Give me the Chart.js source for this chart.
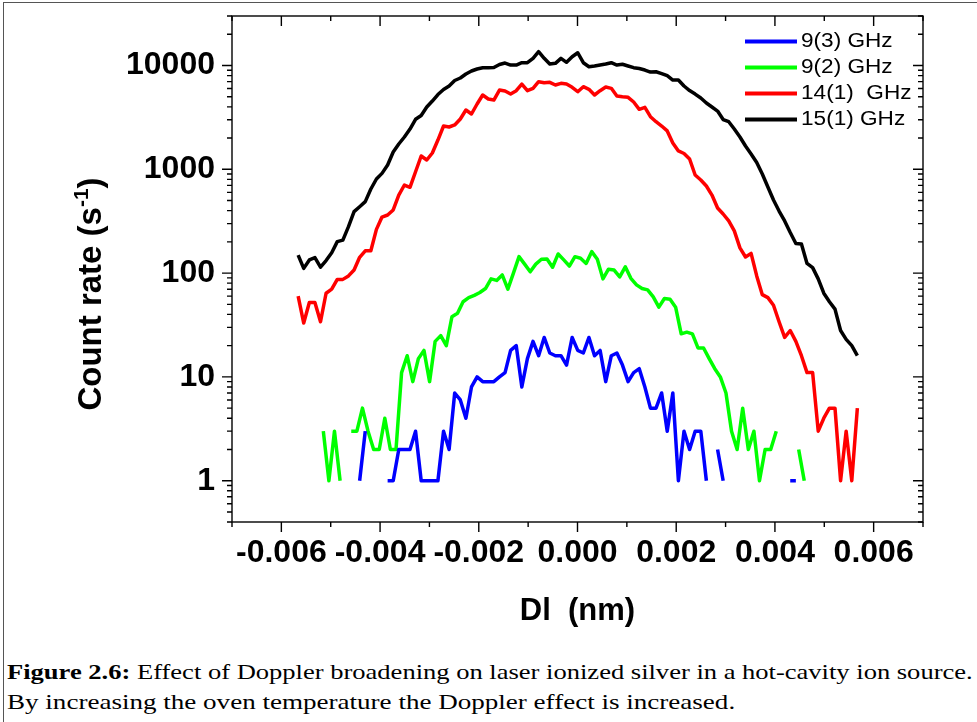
<!DOCTYPE html>
<html>
<head>
<meta charset="utf-8">
<script src="https://cdn.jsdelivr.net/npm/chart.js@4.4.1/dist/chart.umd.min.js"></script>
<style>
  html, body { margin: 0; padding: 0; background: #fff; }
  body { width: 977px; height: 722px; position: relative; overflow: hidden; }
  #frame { position: absolute; left: 3px; top: 2px; width: 1000px; height: 760px; border: 1px solid #555; }
  #plot { position: absolute; left: 0; top: 0; }
  .cap { position: absolute; left: 7px; display: inline-block; white-space: pre; color: #000;
         font-family: "Liberation Serif", "Times New Roman", serif; font-size: 22px; line-height: 22px;
         transform-origin: 0 0; }
</style>
</head>
<body>
<div id="frame"></div>
<canvas id="plot" width="977" height="640"></canvas>
<div class="cap" id="cap1" style="top:661px"><b>Figure 2.6:</b> Effect of Doppler broadening on laser ionized silver in a hot-cavity ion source.</div>
<div class="cap" id="cap2" style="top:691px">By increasing the oven temperature the Doppler effect is increased.</div>
<script>
// wavelength offset (nm) of each scan step, shared by 9(3), 14(1) and 15(1) GHz
const dl = [
  -0.005660, -0.005547, -0.005433, -0.005320, -0.005207, -0.005094, -0.004980, -0.004867, -0.004754, -0.004640,
  -0.004527, -0.004414, -0.004300, -0.004187, -0.004074, -0.003961, -0.003847, -0.003734, -0.003621, -0.003507,
  -0.003394, -0.003281, -0.003167, -0.003054, -0.002941, -0.002828, -0.002714, -0.002601, -0.002488, -0.002374,
  -0.002261, -0.002148, -0.002034, -0.001921, -0.001808, -0.001695, -0.001581, -0.001468, -0.001355, -0.001241,
  -0.001128, -0.001015, -0.000901, -0.000788, -0.000675, -0.000562, -0.000448, -0.000335, -0.000222, -0.000108,
  0.000005, 0.000118, 0.000232, 0.000345, 0.000458, 0.000572, 0.000685, 0.000798, 0.000911, 0.001025,
  0.001138, 0.001251, 0.001365, 0.001478, 0.001591, 0.001705, 0.001818, 0.001931, 0.002044, 0.002158,
  0.002271, 0.002384, 0.002498, 0.002611, 0.002724, 0.002838, 0.002951, 0.003064, 0.003177, 0.003291,
  0.003404, 0.003517, 0.003631, 0.003744, 0.003857, 0.003971, 0.004084, 0.004197, 0.004310, 0.004424,
  0.004537, 0.004650, 0.004764, 0.004877, 0.004990, 0.005104, 0.005217, 0.005330, 0.005443, 0.005557,
  0.005670
];

// the 9(2) GHz scan sits half a step off the others
const dlGreen = [
  -0.005150, -0.005037, -0.004924, -0.004810, -0.004697, -0.004584, -0.004470, -0.004357, -0.004244, -0.004130,
  -0.004017, -0.003904, -0.003791, -0.003677, -0.003564, -0.003451, -0.003337, -0.003224, -0.003111, -0.002997,
  -0.002884, -0.002771, -0.002658, -0.002544, -0.002431, -0.002318, -0.002204, -0.002091, -0.001978, -0.001864,
  -0.001751, -0.001638, -0.001525, -0.001411, -0.001298, -0.001185, -0.001071, -0.000958, -0.000845, -0.000731,
  -0.000618, -0.000505, -0.000392, -0.000278, -0.000165, -0.000052, 0.000062, 0.000175, 0.000288, 0.000402,
  0.000515, 0.000628, 0.000742, 0.000855, 0.000968, 0.001081, 0.001195, 0.001308, 0.001421, 0.001535,
  0.001648, 0.001761, 0.001875, 0.001988, 0.002101, 0.002214, 0.002328, 0.002441, 0.002554, 0.002668,
  0.002781, 0.002894, 0.003008, 0.003121, 0.003234, 0.003347, 0.003461, 0.003574, 0.003687, 0.003801,
  0.003914, 0.004027, 0.004141, 0.004254, 0.004367, 0.004481, 0.004594
];

// count rates (1/s), null = no counts
const rate9_3 = [
  null, null, null, null, null, null, null, null, null, null,
  null, 1, 3, null, null, null, 1, 1, 2, 2,
  2, 3, 1, 1, 1, 1, 3, 2, 7, 6,
  4, 8, 10, 9, 9, 9, 10, 11, 18, 20,
  8, 15, 22, 16, 24, 17, 16, 16, 13, 24,
  18, 17, 24, 16, 18, 9, 16, 17, 13, 9,
  11, 12, 8, 5, 5, 7, 3, 7, 1, 3,
  2, 3, 3, 1, null, 2, 1, null, null, null,
  null, null, null, null, null, null, null, null, 1, 1,
  null, null, null, null, null, null, null, null, null, null,
  null
];

const rate9_2 = [
  3, 1, 3, 1, null, 3, 3, 5, 3, 2,
  2, 4, 2, 2, 11, 16, 9, 15, 18, 9,
  22, 25, 20, 38, 41, 53, 58, 61, 65, 71,
  88, 85, 96, 70, 100, 144, 122, 103, 122, 136,
  137, 114, 153, 134, 117, 144, 139, 124, 161, 136,
  88, 109, 107, 92, 115, 89, 77, 71, 69, 59,
  47, 57, 56, 47, 26, 27, 26, 19, 19, 15,
  12, 10, 7, 3, 2, 5, 2, 3, 1, 2,
  2, 3, null, null, null, 2, 1
];

const rate14_1 = [
  60, 33, 52, 52, 34, 64, 70, 87, 87, 94,
  107, 142, 164, 164, 264, 347, 363, 406, 565, 706,
  671, 948, 1343, 1229, 1436, 1915, 2613, 2557, 2675, 3053,
  3727, 3411, 4259, 5200, 4757, 4652, 5804, 5678, 5311, 5716,
  6634, 5716, 6028, 6982, 6827, 6888, 6490, 6736, 6634, 6166,
  5595, 6250, 5900, 5200, 5716, 6208, 6028, 5082, 5004, 4941,
  4448, 3785, 3955, 3212, 2876, 2613, 2343, 1797, 1503, 1420,
  1256, 881, 789, 690, 565, 424, 371, 318, 255, 175,
  143, 155, 94, 62, 58, 49, 34, 24, 28, 22,
  16, 11, 11, 3, 4, 5, 5, 1, 3, 1,
  5
];

const rate15_1 = [
  149, 111, 134, 141, 114, 132, 157, 201, 208, 280,
  391, 436, 488, 646, 807, 914, 1099, 1468, 1754, 2049,
  2445, 3032, 3299, 3982, 4548, 5256, 5872, 6350, 7175, 7582,
  8285, 8855, 9254, 9530, 9530, 9570, 10230, 10570, 10110, 10110,
  10640, 10640, 11730, 13580, 11730, 10330, 10500, 11730, 10740, 12160,
  13280, 10640, 9730, 9890, 10110, 10330, 10640, 10110, 10280, 9890,
  9530, 9350, 9050, 8650, 8710, 8370, 7980, 7250, 7250, 6350,
  5740, 5310, 4860, 4350, 3982, 3640, 3019, 2876, 2445, 2049,
  1677, 1405, 1164, 901, 675, 506, 396, 318, 246, 193,
  191, 124, 113, 88, 64, 53, 45, 28, 23, 20,
  16
];

const seriesLabels = ['9(3) GHz', '9(2) GHz', '14(1)  GHz', '15(1) GHz'];
const seriesColors = ['#0000ff', '#00ff00', '#ff0000', '#000000'];

const xMajor = [-0.006, -0.004, -0.002, 0, 0.002, 0.004, 0.006];
const xMinor = [-0.007, -0.005, -0.003, -0.001, 0.001, 0.003, 0.005, 0.007];
const yMajor = [1, 10, 100, 1000, 10000];
const yMinorSteps = [2, 3, 4, 5, 6, 7, 8, 9];

const FONT = '"Liberation Sans", Arial, Helvetica, sans-serif';

const pts = (xs, ys) => xs.map((x, k) => ({ x: x, y: ys[k] }));

// box, mirrored ticks, legend and the y title with its superscript
const frameTicks = {
  id: 'frameTicks',
  afterDraw(chart) {
    const { ctx, chartArea: a, scales: { x, y } } = chart;
    ctx.save();
    ctx.strokeStyle = '#000';
    ctx.lineWidth = 1.4;
    ctx.strokeRect(a.left, a.top, a.right - a.left, a.bottom - a.top);

    ctx.beginPath();
    const xTick = (v, len) => {
      const px = x.getPixelForValue(v);
      ctx.moveTo(px, a.bottom); ctx.lineTo(px, a.bottom + len);
      ctx.moveTo(px, a.top); ctx.lineTo(px, a.top + len);
    };
    const yTick = (v, len) => {
      const py = y.getPixelForValue(v);
      ctx.moveTo(a.left - len, py); ctx.lineTo(a.left, py);
      ctx.moveTo(a.right - len, py); ctx.lineTo(a.right, py);
    };
    xMajor.forEach(v => xTick(v, 10));
    xMinor.forEach(v => xTick(v, 5));
    yMajor.forEach(v => yTick(v, 10));
    [0.1].concat(yMajor).forEach(d => yMinorSteps.forEach(m => {
      const v = d * m;
      if (v >= y.min && v <= y.max) yTick(v, 5);
    }));
    ctx.stroke();

    // legend
    chart.data.datasets.forEach((ds, k) => {
      const ly = 41.5 + k * 26;
      ctx.strokeStyle = ds.borderColor;
      ctx.lineWidth = 4;
      ctx.beginPath();
      ctx.moveTo(745, ly);
      ctx.lineTo(797, ly);
      ctx.stroke();
      ctx.save();
      ctx.translate(801, ly);
      ctx.scale(1.13, 1);
      ctx.fillStyle = '#000';
      ctx.font = '20px ' + FONT;
      ctx.textBaseline = 'middle';
      ctx.fillText(ds.label, 0, 0);
      ctx.restore();
    });

    // y axis title
    ctx.save();
    ctx.translate(101, 294);
    ctx.rotate(-Math.PI / 2);
    ctx.fillStyle = '#000';
    ctx.textBaseline = 'alphabetic';
    const big = 'bold 33px ' + FONT, small = 'bold 21px ' + FONT;
    ctx.font = big;
    const w1 = ctx.measureText('Count rate (s').width;
    const w3 = ctx.measureText(')').width;
    ctx.font = small;
    const w2 = ctx.measureText('-1').width;
    let sx = -(w1 + w2 + w3) / 2;
    ctx.font = big;
    ctx.fillText('Count rate (s', sx, 0);
    sx += w1;
    ctx.font = small;
    ctx.fillText('-1', sx, -13);
    sx += w2;
    ctx.font = big;
    ctx.fillText(')', sx, 0);
    ctx.restore();

    ctx.restore();
  }
};

new Chart(document.getElementById('plot'), {
  type: 'line',
  data: {
    datasets: [
      { label: seriesLabels[0], data: pts(dl, rate9_3), borderColor: seriesColors[0] },
      { label: seriesLabels[1], data: pts(dlGreen, rate9_2), borderColor: seriesColors[1] },
      { label: seriesLabels[2], data: pts(dl, rate14_1), borderColor: seriesColors[2] },
      { label: seriesLabels[3], data: pts(dl, rate15_1), borderColor: seriesColors[3] }
    ]
  },
  options: {
    responsive: false,
    animation: false,
    devicePixelRatio: 1,
    layout: { padding: { left: 0, top: 16, right: 54, bottom: 0 } },
    elements: {
      point: { radius: 0 },
      line: { borderWidth: 3.5, tension: 0, borderJoinStyle: 'round', fill: false }
    },
    plugins: { legend: { display: false }, tooltip: { enabled: false } },
    scales: {
      x: {
        type: 'linear',
        min: -0.007,
        max: 0.007,
        grid: { display: false, drawTicks: false },
        border: { display: false },
        afterBuildTicks: s => { s.ticks = xMajor.map(v => ({ value: v })); },
        afterFit: s => { s.height = 118; s.paddingLeft = 0; s.paddingRight = 0; },
        ticks: {
          autoSkip: false, maxRotation: 0, padding: 12, color: '#000',
          font: { family: FONT, size: 32, weight: 'bold' },
          callback: v => Number(v).toFixed(3)
        },
        title: {
          display: true, text: 'Dl  (nm)', color: '#000',
          font: { family: FONT, size: 31, weight: 'bold' },
          padding: { top: 0, bottom: 10 }
        }
      },
      y: {
        type: 'logarithmic',
        min: 0.4,
        max: 30000,
        grid: { display: false, drawTicks: false },
        border: { display: false },
        afterBuildTicks: s => { s.ticks = yMajor.map(v => ({ value: v })); },
        afterFit: s => { s.width = 232; s.paddingTop = 0; s.paddingBottom = 0; },
        ticks: {
          autoSkip: false, padding: 17, color: '#000',
          font: { family: FONT, size: 32, weight: 'bold' },
          callback: v => String(v)
        }
      }
    }
  },
  plugins: [frameTicks]
});

// stretch each caption line to the width of the original line
const cap1 = document.getElementById('cap1');
const cap2 = document.getElementById('cap2');
cap1.style.transform = 'scaleX(' + (966 / cap1.offsetWidth) + ')';
cap2.style.transform = 'scaleX(' + (728 / cap2.offsetWidth) + ')';
</script>
</body>
</html>
